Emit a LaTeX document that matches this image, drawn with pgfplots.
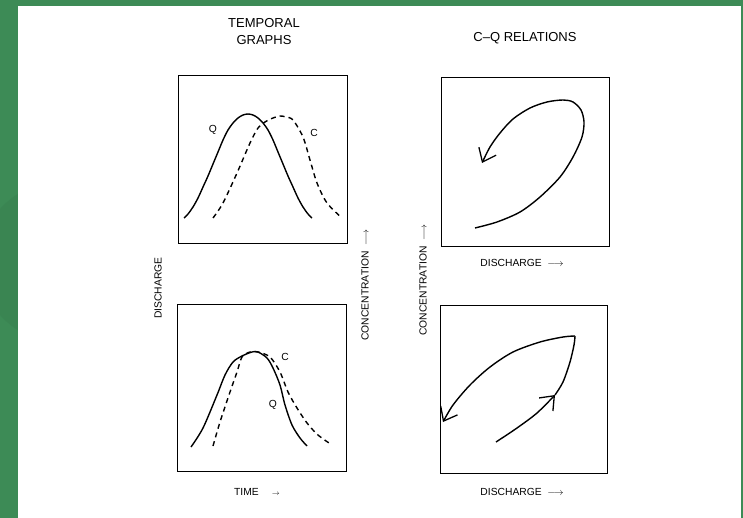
\documentclass[border=0pt]{standalone}
\usepackage{fontspec}
\setmainfont{Liberation Sans}
\usepackage{pgfplots}
\pgfplotsset{compat=1.18}
\usetikzlibrary{arrows.meta}
\definecolor{frame}{RGB}{61,139,86}
\definecolor{framedark}{RGB}{58,133,82}

\pgfplotsset{
  panel/.style={scale only axis, xtick=\empty, ytick=\empty,
    axis line style={line width=0.9pt}, anchor=south west, clip=false},
  curve/.style={smooth, no markers, line width=1.4pt, black},
  dcurve/.style={curve, dash pattern=on 5pt off 4pt},
  barb/.style={-{Straight Barb[length=12pt,width=19pt,line width=1.3pt]}},
}
\newcommand{\lab}{\fontsize{10.3}{12}\selectfont}
\newcommand{\ttl}{\fontsize{13}{17}\selectfont}

\begin{document}
\begin{tikzpicture}
% page and scan frame
\fill[frame] (0pt,0pt) rectangle (743pt,-518pt);
\begin{scope}
  \clip (0pt,0pt) rectangle (18pt,-518pt);
  \fill[framedark] (60pt,-262pt) circle (80pt);
\end{scope}
\fill[white] (18pt,-6pt) rectangle (741pt,-518pt);

% ---- temporal graphs, top
\begin{axis}[panel, at={(178pt,-243pt)}, width=169pt, height=168pt,
    xmin=0, xmax=169, ymin=0, ymax=168]
\addplot[curve] coordinates {
  (6,25)(10,29)(15,36)(20,45)(25,56)(30,67)(35,79)(40,91)(45,103)(50,113)
  (55,120)(60,125)(65,128)(70,129)(75,128)(80,125)(85,120)(90,113)(95,103)
  (100,91)(105,79)(110,67)(115,56)(120,45)(125,36)(130,29)(134,25)};
\addplot[dcurve] coordinates {
  (35,25)(45,40)(59,70)(72,100)(80,115)(87,121)(95,125)(102,127)(108,126)
  (115,123)(125,106)(132,83)(139,60)(149,40)(164,25)};
\node[font=\lab] at (axis cs:35,113) {Q};
\node[font=\lab] at (axis cs:136,110) {C};
\end{axis}

% ---- temporal graphs, bottom
\begin{axis}[panel, at={(177pt,-471pt)}, width=169pt, height=167pt,
    xmin=0, xmax=169, ymin=0, ymax=167]
\addplot[curve] coordinates {
  (14,24)(26,43)(40,76)(48,96)(56,109)(65,115)(75,119)(81,119)(90,113)
  (96,103)(103,86)(108,66)(115,46)(123,33)(130,25)};
\addplot[dcurve] coordinates {
  (36,25)(43,49)(53,79)(60,99)(65,114)(73,119)(81,119)(93,114)(103,99)
  (111,79)(120,63)(130,48)(141,36)(155,26)};
\node[font=\lab] at (axis cs:108,114) {C};
\node[font=\lab] at (axis cs:96,66) {Q};
\end{axis}

% ---- C-Q relations, top (anticlockwise loop)
\begin{axis}[panel, at={(441pt,-246pt)}, width=168pt, height=169pt,
    xmin=0, xmax=168, ymin=0, ymax=169]
\addplot[curve, barb] coordinates {
  (34,18)(56,24)(79,34)(99,49)(119,69)(132,89)(141,109)(143,124)(140,136)
  (132,144)(122,146)(106,144)(89,138)(72,127)(59,113)(49,99)(41,83)};
\end{axis}

% ---- C-Q relations, bottom (clockwise loop)
\begin{axis}[panel, at={(440pt,-473pt)}, width=167pt, height=168pt,
    xmin=0, xmax=167, ymin=0, ymax=168]
\addplot[curve, barb] coordinates {
  (56,31)(77,45)(97,60)(115,78)};
\addplot[curve] coordinates {
  (115,78)(123,91)(130,111)(134,128)(135,137)};
\addplot[curve, barb] coordinates {
  (135,137)(123,136)(100,131)(73,121)(50,106)(30,88)(13,68)(3,51)};
\end{axis}

% ---- titles and shared labels
\node[font=\ttl, align=center] at (264pt,-32pt) {TEMPORAL\\GRAPHS};
\node[font=\ttl] at (525pt,-38pt) {C--Q RELATIONS};
\node[font=\lab, rotate=90] at (158pt,-288pt) {DISCHARGE};
\node[font=\lab, rotate=90] at (365pt,-285pt) {CONCENTRATION\; $\longrightarrow$};
\node[font=\lab, rotate=90] at (423pt,-280pt) {CONCENTRATION\; $\longrightarrow$};
\node[font=\lab] at (522pt,-263pt) {DISCHARGE\; $\longrightarrow$};
\node[font=\lab] at (522pt,-492pt) {DISCHARGE\; $\longrightarrow$};
\node[font=\lab] at (257pt,-492pt) {TIME \quad$\scriptstyle\rightarrow$};
\end{tikzpicture}
\end{document}
